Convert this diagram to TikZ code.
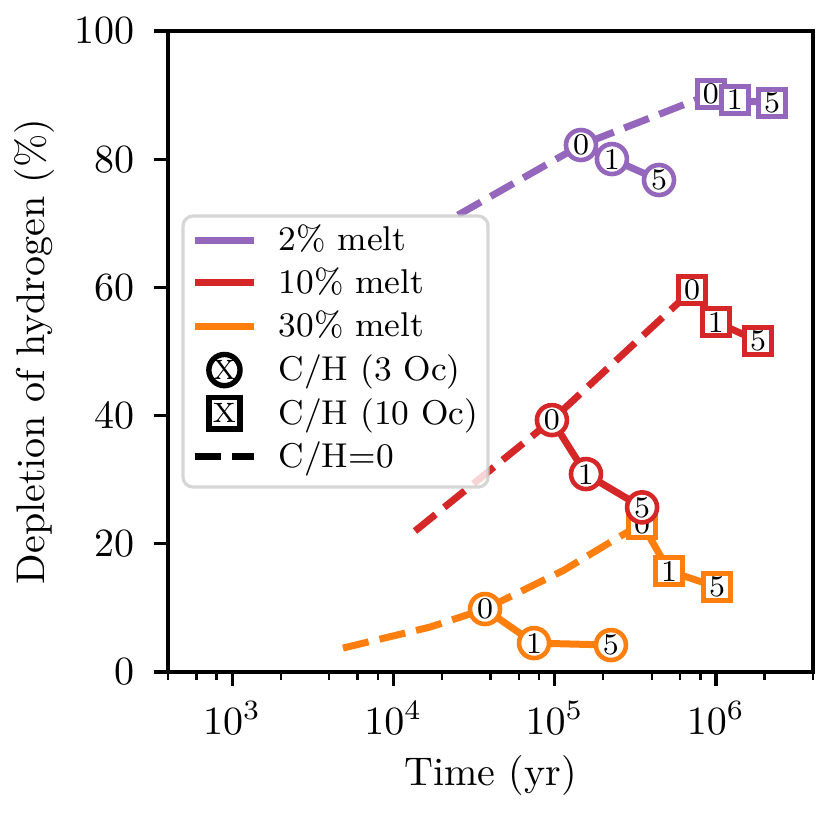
\documentclass[tikz,border=0pt]{standalone}
\usepackage{tikz}
\definecolor{meltpurple}{HTML}{9467BD}
\definecolor{meltred}{HTML}{D62728}
\definecolor{meltorange}{HTML}{FF7F0E}
\tikzset{
  axisfont/.style={font=\fontsize{10}{12}\selectfont},
}

\begin{document}
\begin{tikzpicture}[
    x=40.31pt, y=1.6025pt,
    track/.style={#1,line width=1.75pt,line cap=rect},
    zeroline/.style={#1,line width=1.75pt,dash pattern=on 6.6pt off 2.8pt},
    circmark/.style={circle,draw=#1,fill=white,line width=1.15pt,minimum size=7.5pt,inner sep=0pt,font=\fontsize{7.5}{8}\selectfont},
    sqmark/.style={rectangle,draw=#1,fill=white,line width=1.15pt,minimum size=6.8pt,inner sep=0pt,font=\fontsize{7.5}{8}\selectfont},
    legtext/.style={anchor=base west,inner sep=0pt,font=\fontsize{8.6}{10}\selectfont}
    ]
    \useasboundingbox (1.560,-22.46) rectangle (6.720,104.84);
    % axes
    \draw[line width=0.8pt] (2.60206,0) rectangle (6.60206,100);
    \foreach \v in {0,20,...,100}
      \draw[line width=0.8pt] (2.60206,\v) -- ++(-3.5pt,0) node[left=4.5pt,inner sep=0pt,axisfont] (ytick\v) {\v};
    \foreach \e in {3,4,5,6}
      \draw[line width=0.8pt] (\e,0) -- ++(0,-3.5pt) node[below=3.5pt,inner sep=0pt,axisfont] (xtick\e) {$10^{\e}$};
    \foreach \m in {2.60206,2.77815,2.90309,3.30103,3.60206,3.77815,3.90309,4.30103,4.60206,4.77815,4.90309,5.30103,5.60206,5.77815,5.90309,6.30103,6.60206}
      \draw[line width=0.6pt] (\m,0) -- ++(0,-2pt);
    \node[axisfont] (xtitle) at (4.602,-16.07) {Time (yr)};
    \node[axisfont,rotate=90] (ytitle) at (1.777,50) {Depletion of hydrogen (\%)};

    % 30% melt
    \coordinate (ostart) at (3.687,3.74);
    \coordinate (obend1) at (4.227,7.02);
    \coordinate (obend2) at (5.054,15.85);
    \coordinate (obend3) at (5.385,20.86);
    \coordinate (oc0) at (4.568,9.83);
    \coordinate (oc1) at (4.872,4.52);
    \coordinate (oc5) at (5.349,4.21);
    \coordinate (oq0) at (5.542,23.14);
    \coordinate (oq1) at (5.709,15.76);
    \coordinate (oq5) at (6.007,13.26);
    \draw[zeroline=meltorange] (ostart) -- (obend1) -- (oc0) -- (obend2) -- (obend3) -- (oq0);
    \draw[track=meltorange] (oc0) -- (oc1) -- (oc5);
    \node[circmark=meltorange] (oc0m) at (oc0) {0};
    \node[circmark=meltorange] (oc1m) at (oc1) {1};
    \node[circmark=meltorange] (oc5m) at (oc5) {5};
    \draw[track=meltorange] (oq0) -- (oq1) -- (oq5);
    \node[sqmark=meltorange] (oq0m) at (oq0) {0};
    \node[sqmark=meltorange] (oq1m) at (oq1) {1};
    \node[sqmark=meltorange] (oq5m) at (oq5) {5};

    % 10% melt
    \coordinate (rstart) at (4.134,22.0);
    \coordinate (rc0) at (4.983,39.31);
    \coordinate (rc1) at (5.194,30.89);
    \coordinate (rc5) at (5.542,25.69);
    \coordinate (rq0) at (5.852,59.59);
    \coordinate (rq1) at (6.000,54.60);
    \coordinate (rq5) at (6.261,51.64);
    \draw[zeroline=meltred] (rstart) -- (rc0) -- (rq0);
    \draw[track=meltred] (rc0) -- (rc1) -- (rc5);
    \node[circmark=meltred] (rc0m) at (rc0) {0};
    \node[circmark=meltred] (rc1m) at (rc1) {1};
    \node[circmark=meltred] (rc5m) at (rc5) {5};
    \draw[track=meltred] (rq0) -- (rq1) -- (rq5);
    \node[sqmark=meltred] (rq0m) at (rq0) {0};
    \node[sqmark=meltred] (rq1m) at (rq1) {1};
    \node[sqmark=meltred] (rq5m) at (rq5) {5};

    % 2% melt
    \coordinate (pstart) at (4.400,71.29);
    \coordinate (pc0) at (5.163,82.22);
    \coordinate (pc1) at (5.355,80.03);
    \coordinate (pc5) at (5.647,76.76);
    \coordinate (pq0) at (5.969,90.17);
    \coordinate (pq1) at (6.118,89.24);
    \coordinate (pq5) at (6.348,88.77);
    \draw[zeroline=meltpurple] (pstart) -- (pc0) -- (pq0);
    \draw[track=meltpurple] (pc0) -- (pc1) -- (pc5);
    \node[circmark=meltpurple] (pc0m) at (pc0) {0};
    \node[circmark=meltpurple] (pc1m) at (pc1) {1};
    \node[circmark=meltpurple] (pc5m) at (pc5) {5};
    \draw[track=meltpurple] (pq0) -- (pq1) -- (pq5);
    \node[sqmark=meltpurple] (pq0m) at (pq0) {0};
    \node[sqmark=meltpurple] (pq1m) at (pq1) {1};
    \node[sqmark=meltpurple] (pq5m) at (pq5) {5};

    % legend
    \draw[black!20,line width=0.8pt,fill=white,fill opacity=0.8,draw opacity=0.8,rounded corners=2.5pt]
      (2.695,28.86) rectangle (4.587,71.14);
    \draw[track=meltpurple,line cap=butt] (2.7686,67.39) -- (3.1345,67.39);
    \draw[track=meltred,line cap=butt] (2.7686,60.73) -- (3.1345,60.73);
    \draw[track=meltorange,line cap=butt] (2.7686,53.98) -- (3.1345,53.98);
    \node[circmark=black,line width=1.35pt,minimum size=7.8pt,font=\fontsize{7}{8}\selectfont] (legcirc) at (2.952,47.11) {X};
    \node[sqmark=black,line width=1.35pt,minimum size=7.8pt,font=\fontsize{7}{8}\selectfont] (legsq) at (2.952,40.36) {X};
    \draw[zeroline=black] (2.7686,33.59) -- (3.1345,33.59);
    \node[legtext] (leg2) at (3.284,65.69) {2\% melt};
    \node[legtext] (leg10) at (3.284,59.03) {10\% melt};
    \node[legtext] (leg30) at (3.284,52.28) {30\% melt};
    \node[legtext] (leg3oc) at (3.284,45.41) {C/H (3 Oc)};
    \node[legtext] (leg10oc) at (3.284,38.66) {C/H (10 Oc)};
    \node[legtext] (legzero) at (3.284,31.89) {C/H=0};
  \end{tikzpicture}
\end{document}
